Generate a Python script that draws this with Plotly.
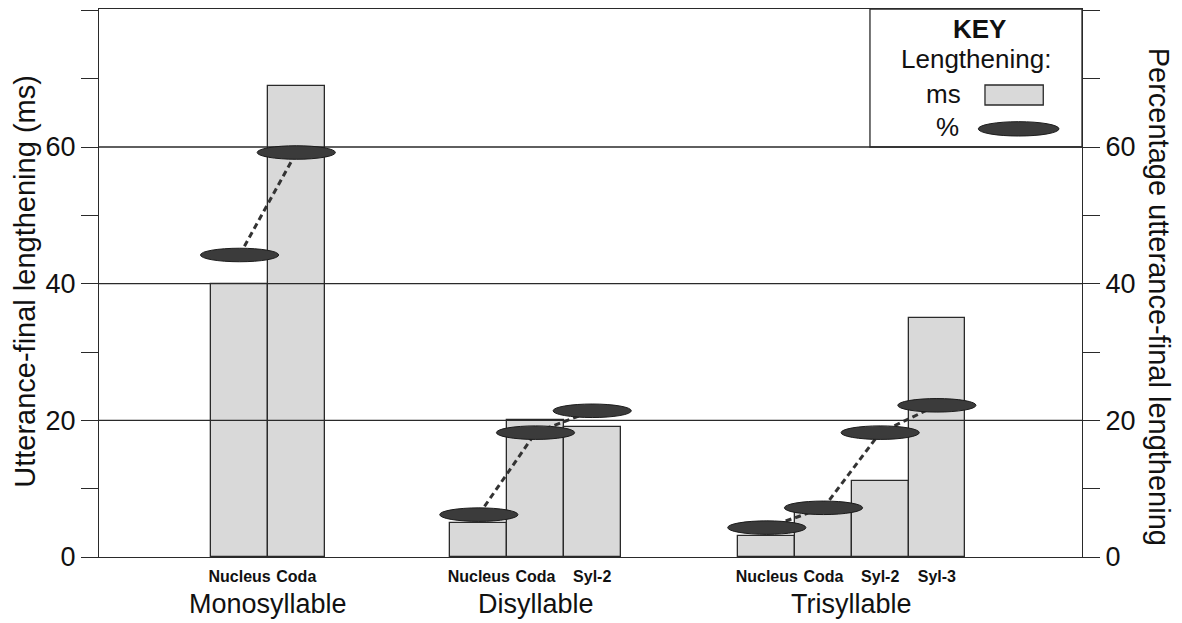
import plotly.graph_objects as go

# ---------------- data ----------------
GROUPS = ["Monosyllable", "Disyllable", "Trisyllable"]
SEGMENTS = [["Nucleus", "Coda"],
            ["Nucleus", "Coda", "Syl-2"],
            ["Nucleus", "Coda", "Syl-2", "Syl-3"]]
MS_VALUES = [[40.0, 69.0],
             [5.0, 20.0, 19.0],
             [3.1, 6.4, 11.1, 35.0]]
PCT_VALUES = [[44.2, 59.2],
              [6.2, 18.2, 21.4],
              [4.3, 7.2, 18.2, 22.2]]
Y_TICKS = [0, 20, 40, 60]
Y_TICK_TEXT = ["0", "20", "40", "60"]

# ---------------- layout constants ----------------
GROUP_START = [2.48, 6.70, 11.78]
X_RANGE = [0, 17.34]
Y_RANGE = [0, 80.2]
ELL_W = 1.38
ELL_H = 1.98
FONT = "Arial, Liberation Sans, sans-serif"
BAR_FILL = "#d9d9d9"
ELL_FILL = "#3b3b3b"
INK = "#2a2a2a"

positions = [[GROUP_START[g] + i for i in range(len(SEGMENTS[g]))] for g in range(len(GROUPS))]
flat_x = [x for grp in positions for x in grp]
flat_ms = [v for grp in MS_VALUES for v in grp]
flat_seg = [s for grp in SEGMENTS for s in grp]

fig = go.Figure()

fig.add_trace(go.Bar(
    x=flat_x, y=flat_ms, width=1.0,
    marker=dict(color=BAR_FILL, line=dict(color=INK, width=1.3)),
    showlegend=False, hoverinfo="skip",
))

for g in range(len(GROUPS)):
    fig.add_trace(go.Scatter(
        x=positions[g], y=PCT_VALUES[g], yaxis="y2", mode="lines",
        line=dict(color="#333333", width=3, dash="6px,4px"),
        showlegend=False, hoverinfo="skip",
    ))

shapes = []
# horizontal reference lines, drawn above the bars
for t in Y_TICKS[1:]:
    shapes.append(dict(type="line", xref="paper", x0=0, x1=1, yref="y", y0=t, y1=t,
                       line=dict(color=INK, width=1.3), layer="above"))
# key box
shapes.append(dict(type="rect", xref="paper", x0=0.7843, x1=1.0, yref="y", y0=60, y1=Y_RANGE[1],
                   line=dict(color=INK, width=1.3), fillcolor="rgba(0,0,0,0)", layer="above"))
# percentage ellipses
for g in range(len(GROUPS)):
    for x, p in zip(positions[g], PCT_VALUES[g]):
        shapes.append(dict(type="circle", xref="x", yref="y2",
                           x0=x - ELL_W / 2, x1=x + ELL_W / 2, y0=p - ELL_H / 2, y1=p + ELL_H / 2,
                           fillcolor=ELL_FILL, line=dict(color="#1c1c1c", width=1), layer="above"))
# key swatches
shapes.append(dict(type="rect", xref="paper", yref="paper", x0=0.9013, x1=0.9606, y0=0.8248, y1=0.8613,
                   fillcolor=BAR_FILL, line=dict(color=INK, width=1.3), layer="above"))
shapes.append(dict(type="circle", xref="paper", yref="paper", x0=0.8945, x1=0.9766, y0=0.7682, y1=0.7944,
                   fillcolor=ELL_FILL, line=dict(color="#1c1c1c", width=1), layer="above"))

annotations = []
for g, name in enumerate(GROUPS):
    cx = sum(positions[g]) / len(positions[g])
    annotations.append(dict(text=name, x=cx, xref="x", y=-0.0858, yref="paper",
                            xanchor="center", yanchor="middle", showarrow=False,
                            font=dict(family=FONT, size=27, color="#111")))
annotations += [
    dict(text="Utterance-final lengthening (ms)", x=-0.0753, xref="paper", y=0.504, yref="paper",
         textangle=-90, xanchor="center", yanchor="middle", showarrow=False,
         font=dict(family=FONT, size=29, color="#111")),
    dict(text="Percentage utterance-final lengthening", x=1.0783, xref="paper", y=0.475, yref="paper",
         textangle=90, xanchor="center", yanchor="middle", showarrow=False,
         font=dict(family=FONT, size=29, color="#111")),
    dict(text="<b>KEY</b>", x=0.8962, y=0.9640, xref="paper", yref="paper", showarrow=False,
         xanchor="center", yanchor="middle", font=dict(family=FONT, size=26, color="#111")),
    dict(text="Lengthening:", x=0.8922, y=0.9095, xref="paper", yref="paper", showarrow=False,
         xanchor="center", yanchor="middle", font=dict(family=FONT, size=26, color="#111")),
    dict(text="ms", x=0.8586, y=0.8458, xref="paper", yref="paper", showarrow=False,
         xanchor="center", yanchor="middle", font=dict(family=FONT, size=26, color="#111")),
    dict(text="%", x=0.8627, y=0.7847, xref="paper", yref="paper", showarrow=False,
         xanchor="center", yanchor="middle", font=dict(family=FONT, size=26, color="#111")),
]

yax = dict(range=Y_RANGE, tickvals=Y_TICKS, ticktext=Y_TICK_TEXT, ticks="outside", ticklen=17,
           tickwidth=1.3, tickcolor=INK, showline=True, linecolor=INK, linewidth=1.3,
           showgrid=False, zeroline=False, fixedrange=True,
           tickfont=dict(family=FONT, size=27, color="#111"),
           minor=dict(ticks="outside", ticklen=17, tickwidth=1.3, tickcolor=INK, dtick=10, tick0=0,
                      showgrid=False))

# the page body adds an 8px margin, so the figure is sized and offset to fill the 1182x623 window
fig.update_layout(
    width=1174, height=615,
    margin=dict(l=91, r=100, t=1, b=66),
    paper_bgcolor="white", plot_bgcolor="white",
    bargap=0, showlegend=False,
    xaxis=dict(range=X_RANGE, tickvals=flat_x, ticktext=flat_seg, ticks="", showline=True,
               mirror=True, linecolor=INK, linewidth=1.3, showgrid=False, zeroline=False,
               ticklabelstandoff=5,
               tickfont=dict(family=FONT, size=16, color="#111", weight="bold")),
    yaxis=dict(**yax, side="left"),
    yaxis2=dict(**yax, side="right", overlaying="y"),
    shapes=shapes, annotations=annotations,
)

fig.write_html("out.html")
